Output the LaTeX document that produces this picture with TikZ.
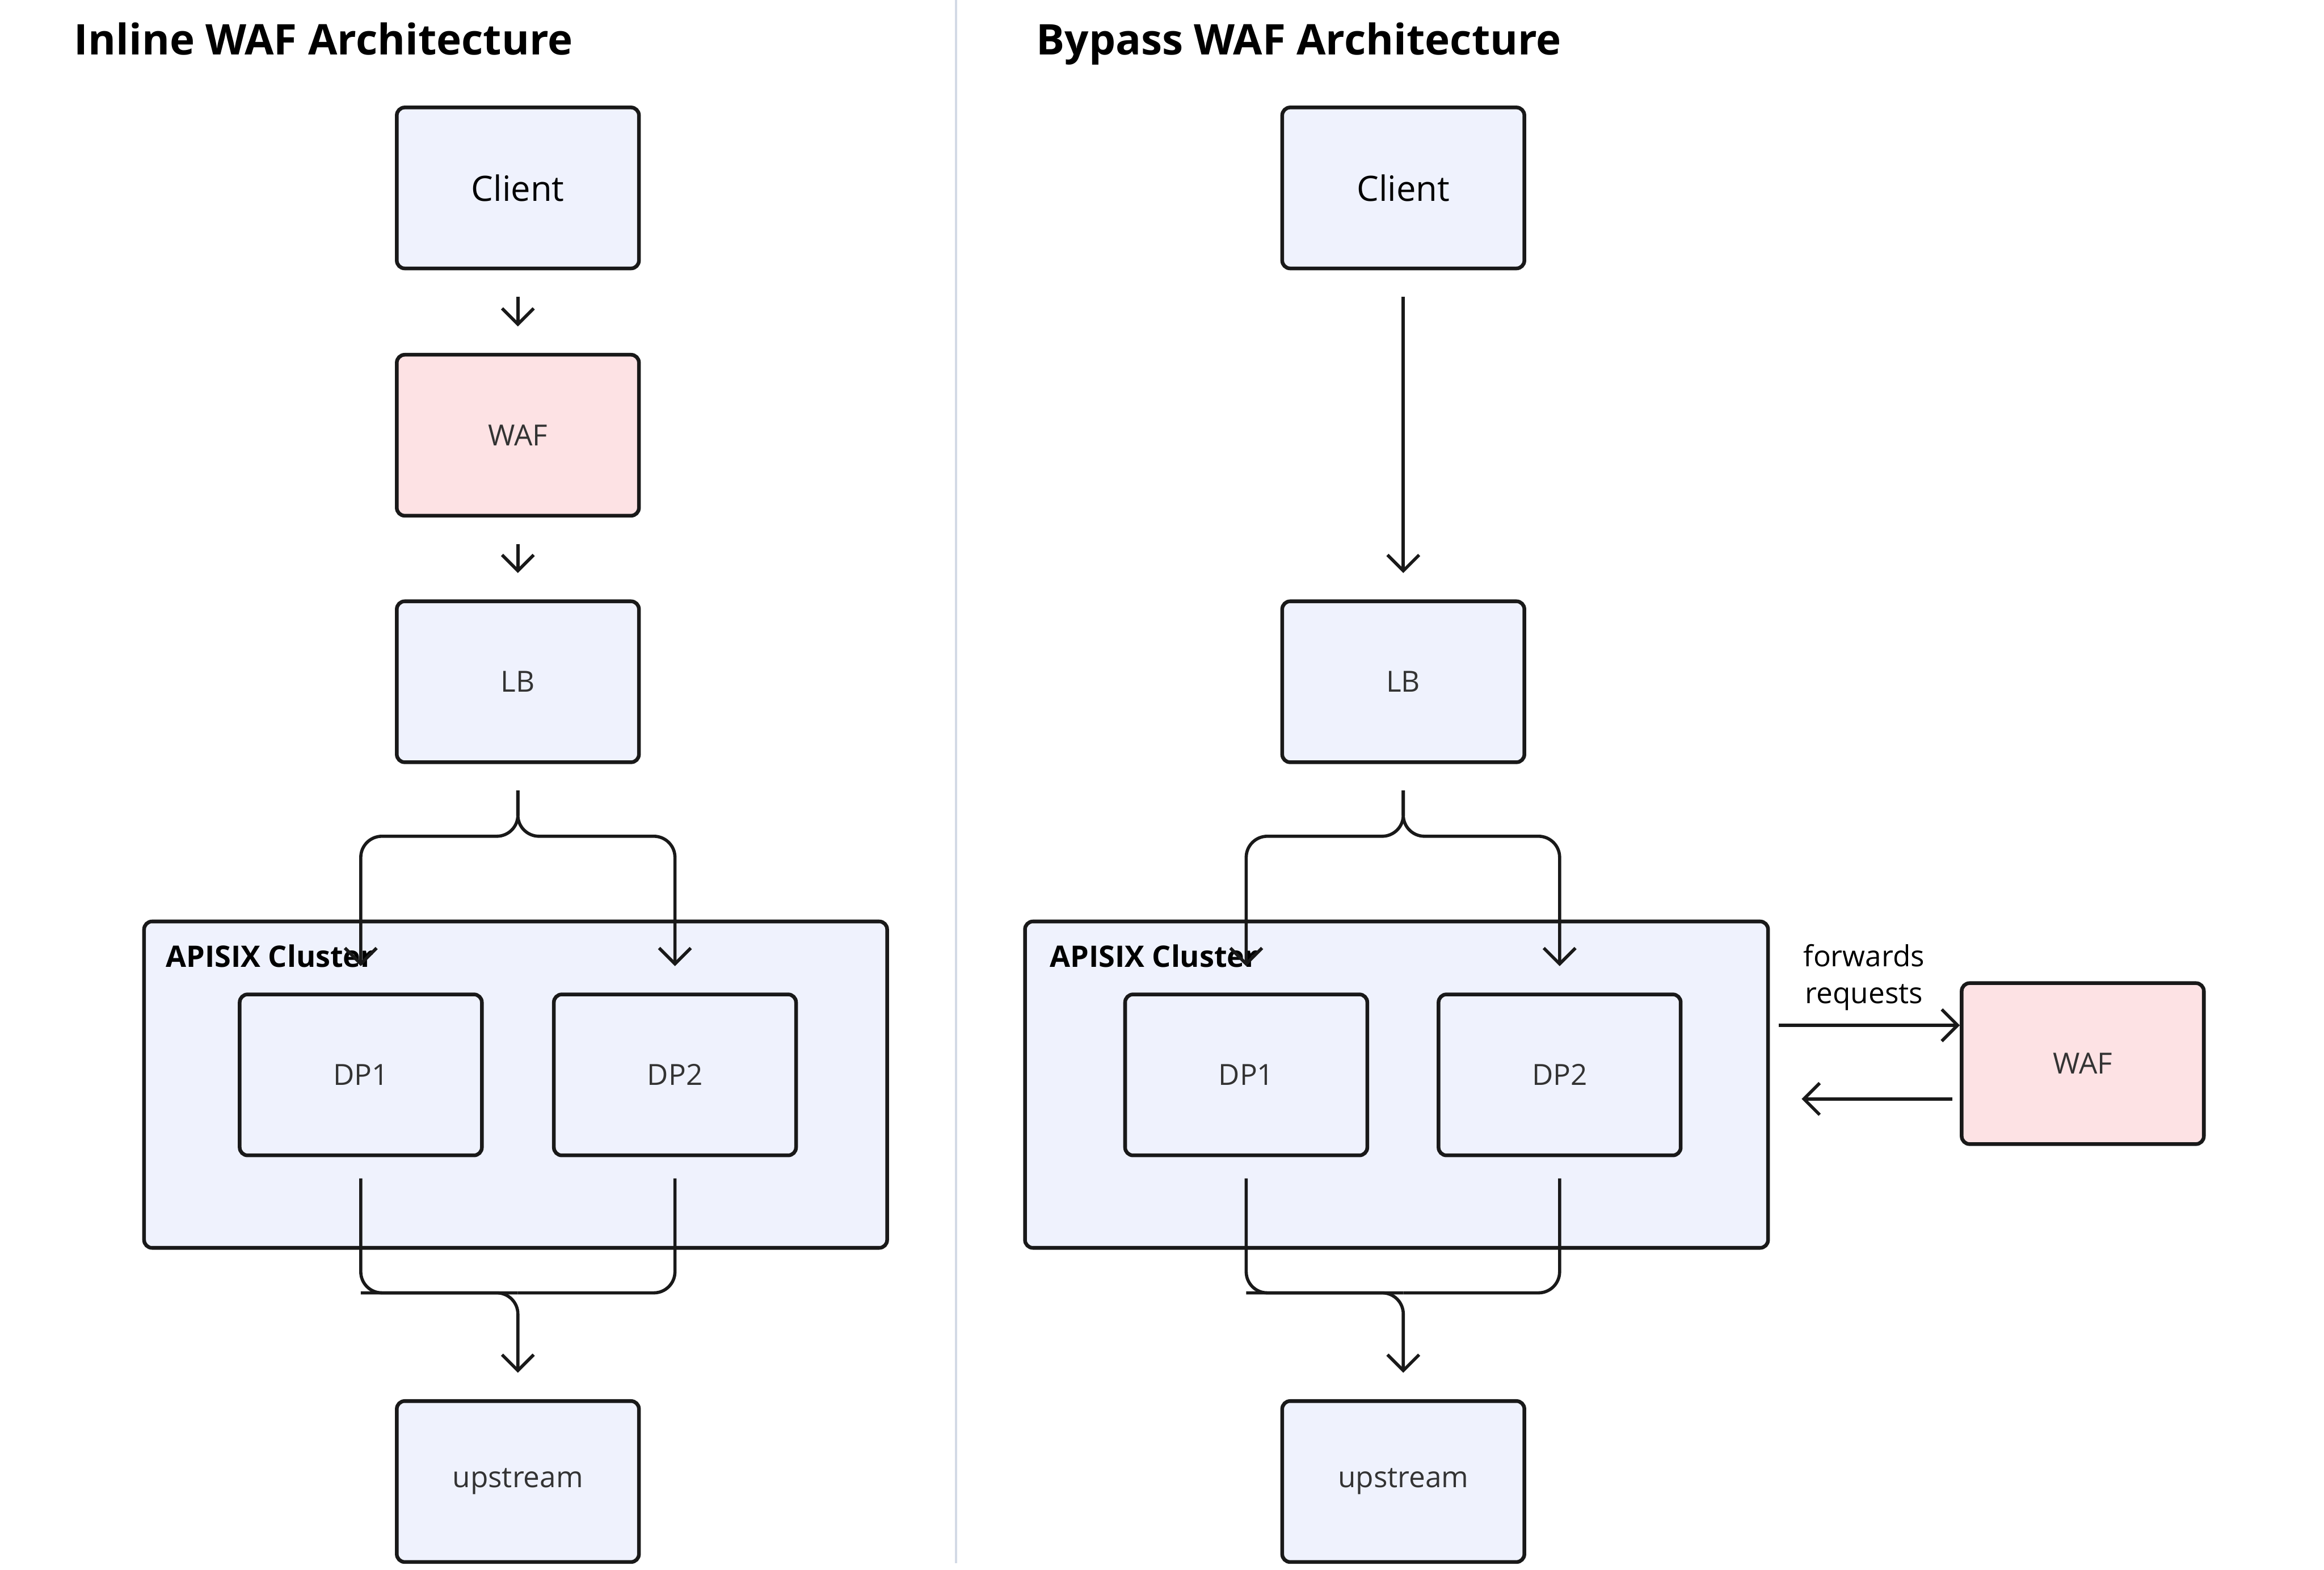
\documentclass[tikz,border=0pt]{standalone}
\usepackage{fontspec}
\setmainfont{Open Sans}
\usetikzlibrary{arrows.meta}
\definecolor{boxb}{HTML}{EFF2FD}
\definecolor{wafb}{HTML}{FDE2E4}
\definecolor{divc}{HTML}{D3DAE6}
\begin{document}
\begin{tikzpicture}[x=0.01cm,y=-0.01cm,
  box/.style={draw=black!90,line width=0.7pt,rounded corners=1.5pt,fill=boxb,minimum width=1.61cm,minimum height=1.07cm,inner sep=0pt,font=\fontsize{5.5}{6}\selectfont,text=black!80},
  big/.style={box,font=\fontsize{6.6}{7}\selectfont,text=black},
  waf/.style={box,fill=wafb},
  cluster/.style={draw=black!90,line width=0.7pt,rounded corners=1.5pt,fill=boxb,inner sep=0pt},
  arr/.style={draw=black!90,line width=0.6pt,-{Straight Barb[length=3pt,width=6pt]},rounded corners=4pt},
  ttl/.style={anchor=west,font=\bfseries\fontsize{8}{9}\selectfont},
  lbl/.style={font=\fontsize{5.5}{7}\selectfont,align=center}]
\useasboundingbox (0,0) rectangle (1546,1044);
\fill[white] (0,0) rectangle (1546,1044);
\draw[divc,line width=0.5pt] (636,0) -- (636,1040);
% ---------- Left ----------
\node[ttl] (t1) at (37,26) {Inline WAF Architecture};
\node[cluster,minimum width=4.94cm,minimum height=2.17cm] (c1) at (343,721.5) {};
\node[anchor=west,font=\bfseries\fontsize{5.6}{6}\selectfont] (c1l) at (98,636) {APISIX Cluster};
\node[big] (cl1) at (344.5,125) {Client};
\node[waf] (w1) at (344.5,289.5) {WAF};
\node[box] (lb1) at (344.5,453.5) {LB};
\node[box] (dp11) at (240,715) {DP1};
\node[box] (dp21) at (449,715) {DP2};
\node[box] (up1) at (344.5,985.5) {upstream};
\coordinate (m1) at (344.5,860);
\draw[arr,shorten <=5pt,shorten >=5pt] (cl1.south) -- (w1.north);
\draw[arr,shorten <=5pt,shorten >=5pt] (w1.south) -- (lb1.north);
\draw[arr,shorten <=5pt,shorten >=5pt] (lb1.south) -- ++(0,48) -| (dp11.north);
\draw[arr,shorten <=5pt,shorten >=5pt] (lb1.south) -- ++(0,48) -| (dp21.north);
\draw[arr,shorten <=4pt,-] (dp11.south) |- (m1);
\draw[arr,shorten <=4pt,-] (dp21.south) |- (m1);
\draw[arr,shorten >=5pt,-{Straight Barb[length=3pt,width=6pt]}] (dp11.south |- m1) -- (m1) -- (up1.north);
% ---------- Right ----------
\node[ttl] (t2) at (677,29) {Bypass WAF Architecture};
\node[cluster,minimum width=4.94cm,minimum height=2.17cm] (c2) at (929,721.5) {};
\node[anchor=west,font=\bfseries\fontsize{5.6}{6}\selectfont] (c2l) at (686,636) {APISIX Cluster};
\node[big] (cl2) at (933.5,125) {Client};
\node[box] (lb2) at (933.5,453.5) {LB};
\node[box] (dp12) at (829,715) {DP1};
\node[box] (dp22) at (1037.5,715) {DP2};
\node[box] (up2) at (933.5,985.5) {upstream};
\node[waf] (w2) at (1385.5,707.5) {WAF};
\coordinate (m2) at (933.5,860);
\draw[arr,shorten <=5pt,shorten >=5pt] (cl2.south) -- (lb2.north);
\draw[arr,shorten <=5pt,shorten >=5pt] (lb2.south) -- ++(0,48) -| (dp12.north);
\draw[arr,shorten <=5pt,shorten >=5pt] (lb2.south) -- ++(0,48) -| (dp22.north);
\draw[arr,shorten <=4pt,-] (dp12.south) |- (m2);
\draw[arr,shorten <=4pt,-] (dp22.south) |- (m2);
\draw[arr,shorten >=5pt] (dp12.south |- m2) -- (m2) -- (up2.north);
\coordinate (a1) at (1182,682);
\coordinate (a2) at (1300,682);
\coordinate (b1) at (1300,731);
\coordinate (b2) at (1182,731);
\draw[arr] (c2.east |- a1) ++(6,0) -- (w2.west |- a2) ;
\draw[arr,shorten >=6pt] (w2.west |- b1) ++(-5,0) -- (c2.east |- b2);
\node[lbl] (fw) at (1240,650) {forwards\\requests};
\end{tikzpicture}
\end{document}
